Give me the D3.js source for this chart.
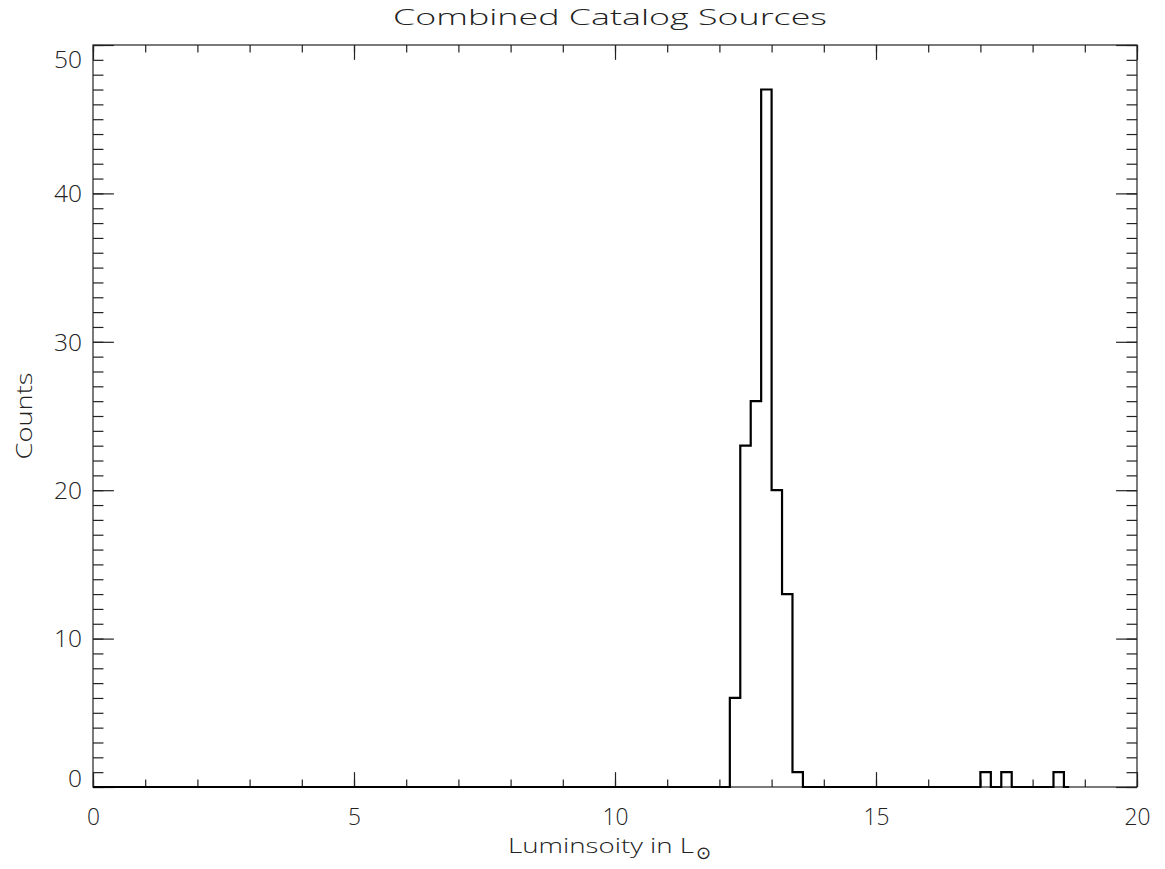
<!DOCTYPE html>
<html>
<head>
<meta charset="utf-8">
<script src="https://cdn.jsdelivr.net/npm/d3@7"></script>
<style>
  html, body { margin: 0; padding: 0; background: #fff; }
  svg { display: block; }
  text { font-family: "Open Sans", "DejaVu Sans", sans-serif; font-weight: 300; fill: #222; }
</style>
</head>
<body>
<svg id="chart" width="1165" height="869"></svg>
<script>
// Histogram of luminosity for the combined catalog (bin width 0.2)
const binWidth = 0.2;
const histRange = [0, 18.7];
const binLo = [12.2, 12.4, 12.6, 12.8, 13.0, 13.2, 13.4, 17.0, 17.4, 18.4];
const binCounts = [6, 23, 26, 47, 20, 13, 1, 1, 1, 1];

const xTicks = [0, 5, 10, 15, 20];
const yTicks = [0, 10, 20, 30, 40, 50];
const xMinor = d3.range(0, 21, 1);
const yMinor = d3.range(0, 51, 1);

const titleText = "Combined Catalog Sources";
const yLabelText = "Counts";

const m = { left: 93, right: 1137, top: 45, bottom: 787 };

const svg = d3.select("#chart");
const x = d3.scaleLinear().domain([0, 20]).range([m.left, m.right]);
const y = d3.scaleLinear().domain([0, 50]).range([m.bottom, m.top]);

const plotW = m.right - m.left, plotH = m.bottom - m.top;
const yMajorLen = 0.02 * plotW, xMajorLen = 0.02 * plotH;

// frame
svg.append("rect")
  .attr("x", m.left).attr("y", m.top)
  .attr("width", plotW).attr("height", plotH)
  .attr("fill", "none").attr("stroke", "#222").attr("stroke-width", 1.2);

function styleAxis(g) {
  g.select(".domain").remove();
  g.selectAll(".tick line").attr("stroke", "#222").attr("stroke-width", 1.2);
}

// minor ticks on all four sides
svg.append("g").attr("transform", `translate(0,${m.bottom})`)
  .call(d3.axisBottom(x).tickValues(xMinor).tickSize(-xMajorLen / 2).tickFormat(""))
  .call(styleAxis);
svg.append("g").attr("transform", `translate(0,${m.top})`)
  .call(d3.axisTop(x).tickValues(xMinor).tickSize(-xMajorLen / 2).tickFormat(""))
  .call(styleAxis);
svg.append("g").attr("transform", `translate(${m.left},0)`)
  .call(d3.axisLeft(y).tickValues(yMinor).tickSize(-yMajorLen / 2).tickFormat(""))
  .call(styleAxis);
svg.append("g").attr("transform", `translate(${m.right},0)`)
  .call(d3.axisRight(y).tickValues(yMinor).tickSize(-yMajorLen / 2).tickFormat(""))
  .call(styleAxis);

// major ticks
const xAxis = svg.append("g").attr("transform", `translate(0,${m.bottom})`)
  .call(d3.axisBottom(x).tickValues(xTicks).tickSize(-xMajorLen).tickPadding(0).tickFormat(d3.format("d")))
  .call(styleAxis);
xAxis.selectAll(".tick text")
  .attr("y", 38).attr("dy", null)
  .style("font-size", "23px").style("font-family", null)
  .attr("textLength", d => String(d).length * 13)
  .attr("lengthAdjust", "spacingAndGlyphs");

svg.append("g").attr("transform", `translate(0,${m.top})`)
  .call(d3.axisTop(x).tickValues(xTicks).tickSize(-xMajorLen).tickFormat(""))
  .call(styleAxis);

const yAxis = svg.append("g").attr("transform", `translate(${m.left},0)`)
  .call(d3.axisLeft(y).tickValues(yTicks).tickSize(-yMajorLen).tickFormat(d3.format("d")))
  .call(styleAxis);
yAxis.selectAll(".tick text")
  .attr("x", -11)
  .attr("dy", d => d === 50 ? "0.98em" : d === 0 ? "-0.03em" : "0.36em")
  .style("font-size", "23px").style("font-family", null)
  .attr("textLength", d => String(d).length * 14)
  .attr("lengthAdjust", "spacingAndGlyphs");

svg.append("g").attr("transform", `translate(${m.right},0)`)
  .call(d3.axisRight(y).tickValues(yTicks).tickSize(-yMajorLen).tickFormat(""))
  .call(styleAxis);

// histogram outline (steps), zero-filled between the occupied bins
const nBins = Math.ceil(histRange[1] / binWidth - 1e-9);
const counts = new Array(nBins).fill(0);
binLo.forEach((lo, i) => { counts[Math.round(lo / binWidth)] = binCounts[i]; });
const steps = counts.map((c, i) => [i * binWidth, c]);
steps.push([histRange[1], 0]);

svg.append("path")
  .datum(steps)
  .attr("fill", "none")
  .attr("stroke", "#000")
  .attr("stroke-width", 2.2)
  .attr("d", d3.line().x(d => x(d[0])).y(d => y(d[1])).curve(d3.curveStepAfter));

// title and axis labels
svg.append("text")
  .attr("x", 393).attr("y", 25)
  .attr("textLength", 434).attr("lengthAdjust", "spacingAndGlyphs")
  .style("font-size", "22px")
  .text(titleText);

const xl = svg.append("text")
  .attr("x", 508).attr("y", 853)
  .style("font-size", "21px");
xl.append("tspan")
  .attr("textLength", 186).attr("lengthAdjust", "spacingAndGlyphs")
  .text("Luminsoity in L");
xl.append("tspan").attr("dx", 2).attr("dy", 6).style("font-size", "18px").text("\u2299");

svg.append("text")
  .attr("transform", `translate(32,${(m.top + m.bottom) / 2}) rotate(-90)`)
  .attr("text-anchor", "middle")
  .attr("textLength", 87).attr("lengthAdjust", "spacingAndGlyphs")
  .style("font-size", "22px")
  .text(yLabelText);
</script>
</body>
</html>
